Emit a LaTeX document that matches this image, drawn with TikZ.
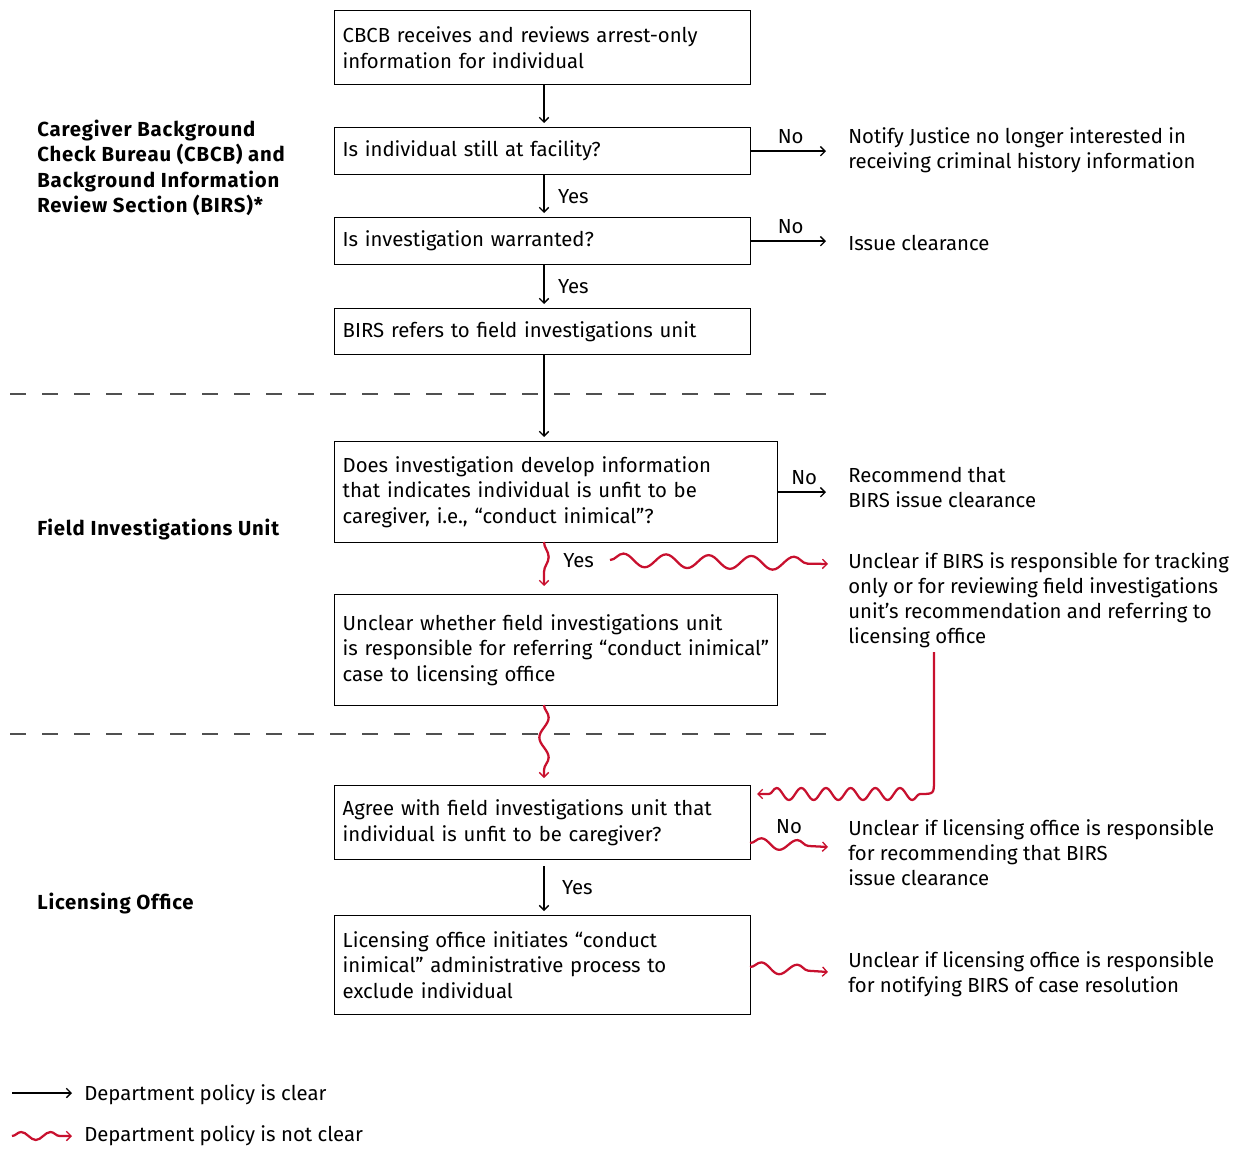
\documentclass[tikz,border=0pt]{standalone}
\usepackage{fontspec}
\setmainfont[BoldFeatures={LetterSpace=4}]{Fira Sans}
\usetikzlibrary{arrows.meta,decorations.pathmorphing,calc}
\definecolor{pred}{RGB}{200,16,46}
\definecolor{dgray}{RGB}{80,80,80}
\begin{document}
\begin{tikzpicture}[x=0.75pt,y=-0.75pt,
  every node/.style={font=\fontsize{15.25}{18.9}\selectfont},
  box/.style={draw, line width=1pt, anchor=north west, inner xsep=6pt, inner ysep=0pt, align=left, minimum width=312pt, text width=300pt},
  widebox/.style={box, minimum width=332.25pt, text width=320.25pt},
  txt/.style={anchor=north west, inner sep=0pt, align=left},
  lbl/.style={txt, font=\fontsize{15.25}{18.9}\selectfont\bfseries},
  yn/.style={anchor=west, inner sep=0pt, text=black},
  tip/.style={-{Straight Barb[length=3.5pt,width=7pt,line width=1pt]}},
  clear/.style={line width=1.2pt, tip, shorten >=3pt},
  wavy/.style n args={2}{pred, line width=1.7pt, tip, decorate, decoration={snake, amplitude=#1, segment length=#2, post length=4pt}},
  sep/.style={dgray, line width=0.9pt, dash pattern=on 12pt off 12pt}
]
\useasboundingbox (0,0) rectangle (1243,1149);

% separators
\draw[sep] (10,394) -- (826,394);
\draw[sep] (10,734) -- (826,734);

% left labels
\node[lbl] (l1) at (37,120) {Caregiver Background\\Check Bureau (CBCB) and\\Background Information\\Review Section (BIRS)*};
\node[lbl] (l2) at (37,519) {Field Investigations Unit};
\node[lbl] (l3) at (37,893) {Licensing Office};

% boxes
\node[box, minimum height=55.5pt] (b1) at (334,10) {CBCB receives and reviews arrest-only\\information for individual};
\node[box, minimum height=35.25pt] (b2) at (334,127) {Is individual still at facility?};
\node[box, minimum height=35.25pt] (b3) at (334,217) {Is investigation warranted?};
\node[box, minimum height=34.5pt] (b4) at (334,308) {BIRS refers to field investigations unit};
\node[widebox, minimum height=75.75pt] (b5) at (334,441) {Does investigation develop information\\that indicates individual is unfit to be\\caregiver, i.e., \textquotedblleft conduct inimical\textquotedblright?};
\node[widebox, minimum height=83.25pt] (b6) at (334,594) {Unclear whether field investigations unit\\is responsible for referring \textquotedblleft conduct inimical\textquotedblright\\case to licensing office};
\node[box, minimum height=55.5pt] (b7) at (334,785) {Agree with field investigations unit that\\individual is unfit to be caregiver?};
\node[box, minimum height=74.25pt] (b8) at (334,915) {Licensing office initiates \textquotedblleft conduct\\inimical\textquotedblright\ administrative process to\\exclude individual};

% right texts
\node[txt] (n1) at (848,127) {Notify Justice no longer interested in\\receiving criminal history information};
\node[txt] (n2) at (848,235) {Issue clearance};
\node[txt] (n3) at (848,467) {Recommend that\\BIRS issue clearance};
\node[txt] (n4) at (848,552) {Unclear if BIRS is responsible for tracking\\only or for reviewing field investigations\\unit's recommendation and referring to\\licensing office};
\node[txt] (n5) at (848,819) {Unclear if licensing office is responsible\\for recommending that BIRS\\issue clearance};
\node[txt] (n6) at (848,951) {Unclear if licensing office is responsible\\for notifying BIRS of case resolution};

% coordinates
\coordinate (e2) at (830,152);
\coordinate (e3) at (830,243);
\coordinate (e5) at (830,492);
\coordinate (w1e) at (544,586);
\coordinate (w1s) at (544,542);
\coordinate (w2s) at (610,560);
\coordinate (w2e) at (828,564);
\coordinate (w3s) at (544,705);
\coordinate (w3e) at (544,778);
\coordinate (w4a) at (934,652);
\coordinate (w4b) at (934,780);
\coordinate (w4c) at (934,794);
\coordinate (w4d) at (920,794);
\coordinate (w4e) at (757,794);
\coordinate (w5s) at (750,843);
\coordinate (w5e) at (828,847);
\coordinate (w6s) at (750,967);
\coordinate (w6e) at (828,972);

% clear arrows
\draw[clear] (b1.south -| w1s) -- (b2.north -| w1s);
\draw[clear] (b2.south -| w1s) -- node[yn, xshift=10pt] {Yes} (b3.north -| w1s);
\draw[clear] (b3.south -| w1s) -- node[yn, xshift=10pt] {Yes} (b4.north -| w1s);
\draw[clear] (b4.south -| w1s) -- (b5.north -| w1s);
\draw[clear] (b2.east) -- node[above=2pt, text=black] {No} (b2.east -| e2);
\draw[clear] (b3.east) -- node[above=2pt, text=black] {No} (b3.east -| e3);
\draw[clear] (b5.east) -- node[above=2pt, text=black] {No} (b5.east -| e5);
\draw[clear, shorten <=4.5pt] (b7.south -| w1s) -- node[yn, xshift=13pt] {Yes} (b8.north -| w1s);

% unclear arrows
\draw[wavy={3.5pt}{36pt}] (w1s) -- (w1e);
\node[yn] (y5) at (563,561) {Yes};
\draw[wavy={5pt}{32pt}] (w2s) -- (w2e);
\draw[wavy={3.5pt}{30pt}] (w3s) -- (w3e);
\draw[pred, line width=1.7pt, tip] (w4a) -- (w4b) .. controls (w4c) .. (w4d)
  decorate[decoration={snake, amplitude=4.5pt, segment length=18.5pt, post length=3pt}] {-- (w4e)};
\draw[wavy={4pt}{27pt}] (w5s) -- node[above=4pt, text=black] {No} (w5e);
\draw[wavy={4pt}{27pt}] (w6s) -- (w6e);

% legend
\coordinate (g1s) at (12,1093);
\coordinate (g1e) at (72,1093);
\coordinate (g2s) at (12,1136);
\coordinate (g2e) at (72,1136);
\draw[line width=1.2pt, tip] (g1s) -- (g1e);
\node[anchor=west, inner sep=0pt] (t1) at (84,1095) {Department policy is clear};
\draw[wavy={3pt}{22pt}] (g2s) -- (g2e);
\node[anchor=west, inner sep=0pt] (t2) at (84,1136) {Department policy is not clear};
\end{tikzpicture}
\end{document}
